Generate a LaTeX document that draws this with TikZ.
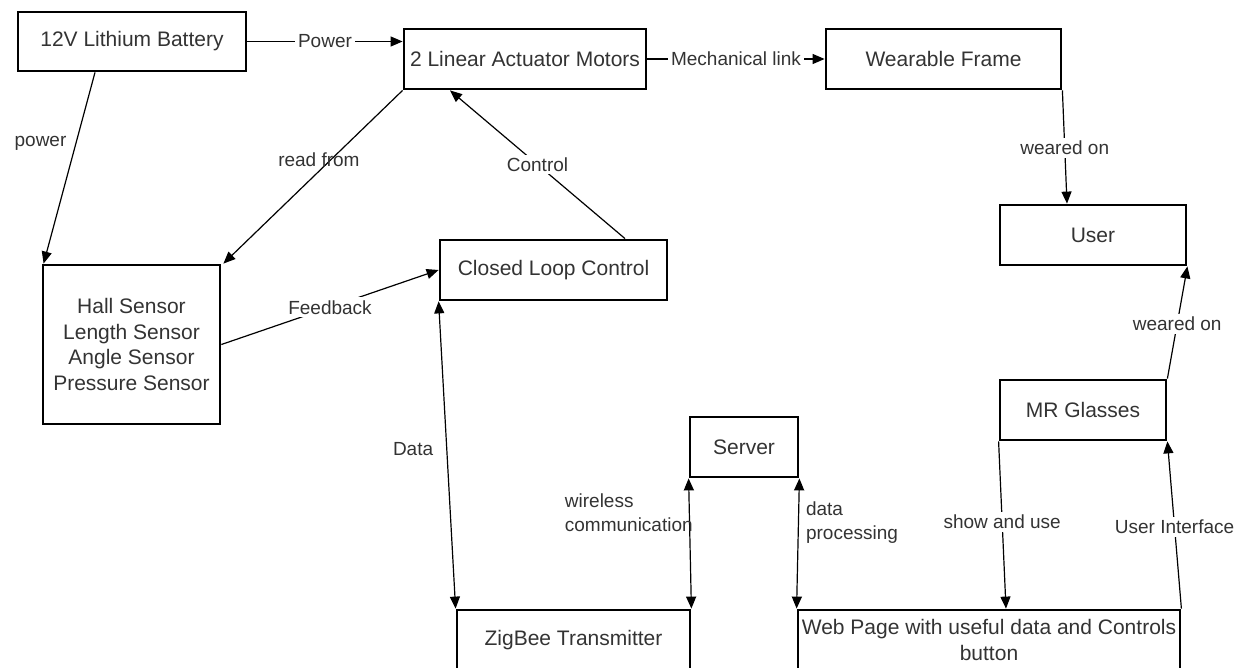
\documentclass[tikz,border=0pt]{standalone}
\usepackage{fontspec}
\setmainfont{Liberation Sans}
\usetikzlibrary{arrows.meta}

\begin{document}
\begin{tikzpicture}[x=0.5pt, y=-0.5pt,
  >={Triangle[length=6pt,width=5pt]},
  block/.style={draw, line width=1.4pt, inner sep=0pt, text=black!80,
    font=\fontsize{10.5}{12.9}\selectfont},
  link/.style={line width=.6pt},
  lbl/.style={font=\fontsize{9.5}{12}\selectfont, text=black!80, inner sep=1.5pt},
  cut/.style={lbl, fill=white}]
\useasboundingbox (0,0) rectangle (1239,668);
%\draw[help lines] (0,0) grid[step=100] (1239,668);

\node [block, minimum width=114pt, minimum height=29.5pt] (bat) at (132, 41.5) {12V Lithium Battery};
\node [block, minimum width=121pt, minimum height=30pt] (mot) at (525, 59) {2 Linear Actuator Motors};
\node [block, minimum width=117.5pt, minimum height=30pt] (frame) at (943.5, 59) {Wearable Frame};
\node [block, minimum width=93pt, minimum height=30pt] (user) at (1093, 235) {User};
\node [block, minimum width=88.5pt, minimum height=79.5pt, align=center] (sens) at (131.5, 344.5)
  {Hall Sensor\\Length Sensor\\Angle Sensor\\Pressure Sensor};
\node [block, minimum width=113.5pt, minimum height=30pt] (clc) at (553.5, 270) {Closed Loop Control};
\node [block, minimum width=54pt, minimum height=30pt] (srv) at (744, 447) {Server};
\node [block, minimum width=83pt, minimum height=30pt] (mr) at (1083, 410) {MR Glasses};
\node [block, minimum width=116.5pt, minimum height=30pt] (zig) at (573.5, 640) {ZigBee Transmitter};
\node [block, minimum width=191pt, minimum height=30pt, align=center] (web) at (989, 640)
  {Web Page with useful data and Controls\\button};

% power lines
\draw [->, link] (bat.east) -- (bat.east -| mot.west) node [cut, midway] {Power};
\draw [->, link] ([xshift=-18.5pt]bat.south) -- ([xshift=1pt]sens.north west) node [lbl, pos=.37, left=3pt] {power};

% motors and control loop
\draw [->, link] (mot.south west) -- ([xshift=1pt]sens.north east) node [lbl, pos=.4, xshift=-6pt] {read from};
\draw [->, link] ([xshift=35.75pt]clc.north) -- ([xshift=-37.5pt]mot.south) node [cut, midway] {Control};
\draw [->, link] (sens.east) -- (clc.west) node [cut, midway] {Feedback};
\draw [->, link] (mot.east) -- (frame.west) node [cut, midway] {Mechanical link};

% data path
\draw [<->, link] (clc.south west) -- (zig.north west) node [lbl, pos=.48, left=5pt] {Data};
\draw [<->, link] (srv.south west) -- (zig.north east)
  node [lbl, pos=.26, anchor=west, xshift=-64pt, align=left] {wireless\\communication};
\draw [<->, link] (srv.south east) -- (web.north west)
  node [lbl, pos=.34, anchor=west, xshift=2pt, align=left] {data\\processing};

% wearables
\draw [->, link] (frame.south east) -- ([xshift=-13pt]user.north) node [cut, pos=.51] {weared on};
\draw [->, link] (mr.north east) -- (user.south east) node [cut, pos=.49] {weared on};
\draw [->, link] (mr.south west) -- ([xshift=8.5pt]web.north) node [cut, pos=.48] {show and use};
\draw [->, link] (web.north east) -- (mr.south east) node [cut, pos=.49] {User Interface};
\end{tikzpicture}
\end{document}
